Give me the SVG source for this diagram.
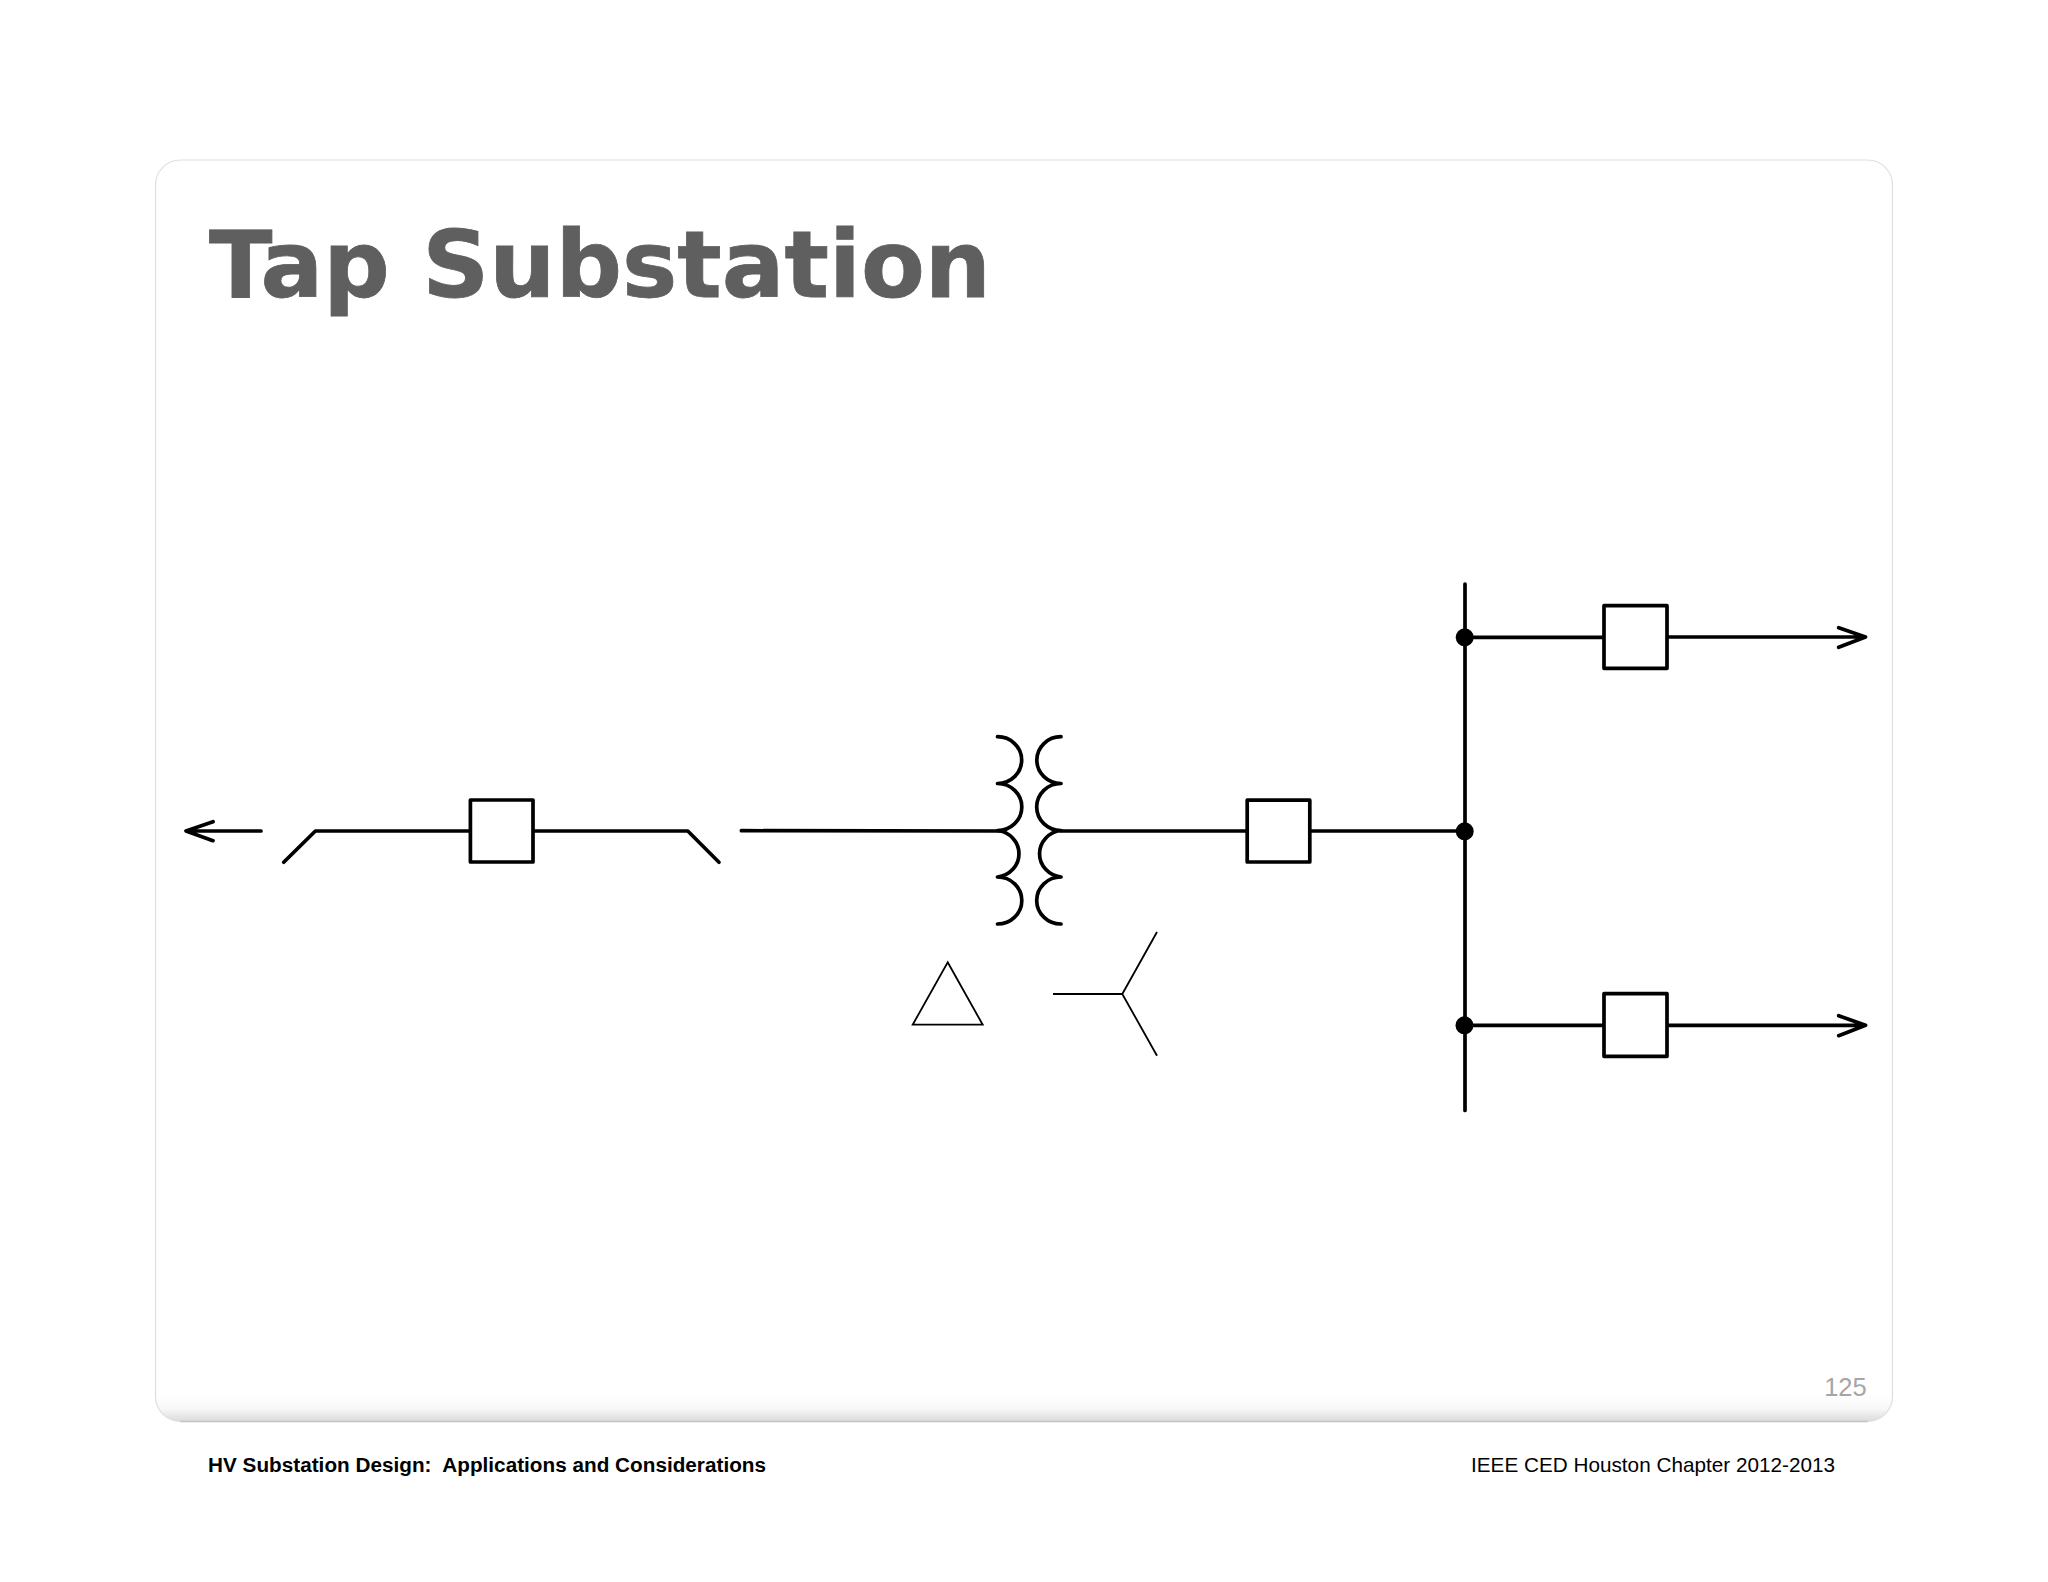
<svg xmlns="http://www.w3.org/2000/svg" width="2048" height="1582" viewBox="0 0 2048 1582">
<style>
.w{fill:none;stroke:#000;stroke-width:3.7;stroke-linecap:round;stroke-linejoin:round}
.b{fill:#fff;stroke:#000;stroke-width:3.7;stroke-linejoin:round}
.t{fill:none;stroke:#000;stroke-width:1.8;stroke-linejoin:miter}
.d{fill:#000}
.f{font-family:"Liberation Sans",Arial,sans-serif;font-size:20.7px;fill:#000}
</style>
<defs>
<linearGradient id="sh" x1="0" y1="0" x2="0" y2="1"><stop offset="0" stop-color="#fff"/><stop offset="0.5" stop-color="#f7f7f7"/><stop offset="1" stop-color="#d9d9d9"/></linearGradient>
<clipPath id="pc"><rect x="155.5" y="160" width="1737" height="1261.5" rx="25"/></clipPath>
</defs>
<rect width="2048" height="1582" fill="#fff"/>
<g id="panel">
<rect x="155.5" y="160" width="1737" height="1261.5" rx="25" fill="#fff"/>
<rect x="155.5" y="1396" width="1737" height="26" fill="url(#sh)" clip-path="url(#pc)"/>
<rect x="155.5" y="160" width="1737" height="1261.5" rx="25" fill="none" stroke="#dfdfdf" stroke-width="1.2"/>
<path d="M180 1421.5H1868" fill="none" stroke="#c4c4c4" stroke-width="1.4"/>
<text x="209" y="296.7" font-family="'DejaVu Sans',Verdana,sans-serif" font-weight="700" font-size="92" fill="#5f5f5f" stroke="#5f5f5f" stroke-width="0.8" textLength="782" lengthAdjust="spacingAndGlyphs">Tap Substation</text>
<text x="1866.7" y="1396" text-anchor="end" font-family="'Liberation Sans',Arial,sans-serif" font-size="25.5" fill="#a6a6a6">125</text>
</g>
<g id="connectors">
<path class="w" d="M261 831H187M213 821.7L186 831L213 840.7"/>
<path class="w" d="M283.7 862.3L315.4 831H470"/>
<path class="w" d="M533 831H687.8L719 862.3"/>
<path class="w" d="M741.4 830.7L1000 831"/>
<path class="w" d="M1061 831H1248"/>
<path class="w" d="M1310 831H1465"/>
<path class="w" d="M1465 584V1110.5"/>
<path class="w" d="M1465 637.3H1604"/>
<path class="w" d="M1667 637H1864M1838.7 627.7L1865.5 637L1838.7 647.3"/>
<path class="w" d="M1465 1025.3H1604"/>
<path class="w" d="M1667 1025.3H1864M1838.7 1015.7L1865.5 1025.3L1838.7 1035.7"/>
</g>
<g id="breaker-1"><rect class="b" x="470.4" y="800" width="62.6" height="62"/></g>
<g id="breaker-2"><rect class="b" x="1247.2" y="800.2" width="62.6" height="61.8"/></g>
<g id="breaker-3"><rect class="b" x="1604" y="605.7" width="63" height="62.6"/></g>
<g id="breaker-4"><rect class="b" x="1604" y="993.7" width="63" height="62.6"/></g>
<g id="transformer">
<path class="w" d="M997.5 736.7A24.2 23.4 0 0 1 997.5 783.5A24.2 23.4 0 0 1 997.5 830.5A24.2 23.4 0 0 1 997.5 877A24.2 23.4 0 0 1 997.5 924"/>
<path class="w" d="M1061 736.7A24.2 23.4 0 0 0 1061 783.5A24.2 23.4 0 0 0 1061 830.5A24.2 23.4 0 0 0 1061 877A24.2 23.4 0 0 0 1061 924"/>
</g>
<g id="delta"><path class="t" d="M947.7 962.3L982.7 1024.7H912.7Z"/></g>
<g id="wye"><path class="t" d="M1053 994H1122.3L1157 932M1122.3 994L1157 1055.7"/></g>
<g id="junction-1"><circle class="d" cx="1464.7" cy="637.3" r="9"/></g>
<g id="junction-2"><circle class="d" cx="1464.7" cy="831.3" r="9"/></g>
<g id="junction-3"><circle class="d" cx="1464.5" cy="1025.3" r="9"/></g>
<g id="footer">
<text class="f" x="208" y="1471.7" font-weight="700" xml:space="preserve" textLength="558">HV Substation Design:  Applications and Considerations</text>
<text class="f" x="1471" y="1472" textLength="364">IEEE CED Houston Chapter 2012-2013</text>
</g>
</svg>
